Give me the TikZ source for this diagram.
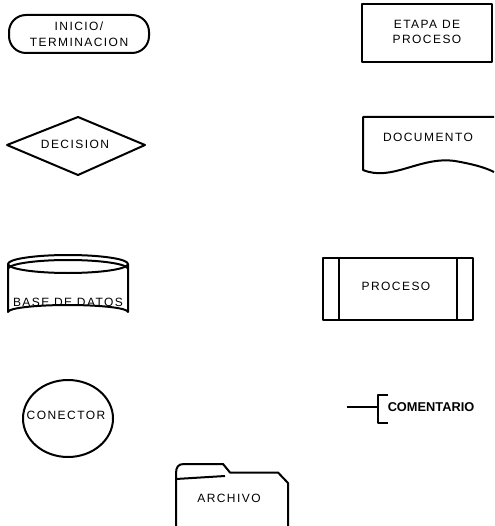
\documentclass[tikz,border=0pt]{standalone}
\usepackage{fontspec}
\setmainfont{Liberation Sans}[LetterSpace=12]
\newfontfamily\plainsans{Liberation Sans}
\usetikzlibrary{shapes.geometric}
\tikzset{
  shp/.style={draw=black, line width=2pt, line join=round},
  lbl/.style={inner sep=0pt, align=center, font=\fontsize{12}{15.7}\selectfont},
  comlbl/.style={inner sep=0pt, font=\plainsans\bfseries\fontsize{12.8}{14}\selectfont}
}
\begin{document}
\begin{tikzpicture}[x=1pt,y=-1pt]
\useasboundingbox (0,0) rectangle (494,526);
\fill[white] (0,0) rectangle (494,526);

% Inicio / terminacion
\node[shp, rounded corners=17pt, minimum width=140pt, minimum height=38pt, inner sep=0pt] (term) at (79,34) {};
\node[lbl] (termt) at (79,34) {INICIO/\\TERMINACION};

% Etapa de proceso
\node[shp, minimum width=130pt, minimum height=58pt, inner sep=0pt] (etapa) at (427,33) {};
\node[lbl] (etapat) at (427,32) {ETAPA DE\\PROCESO};

% Decision
\coordinate (dl) at (7,145);
\coordinate (dt) at (78,117);
\coordinate (dr) at (145,145);
\coordinate (db) at (78,175);
\draw[shp] (dl) -- (dt) -- (dr) -- (db) -- cycle;
\node[lbl] (dect) at (75,144) {DECISION};

% Documento
\coordinate (doc1) at (494,117);
\coordinate (doc2) at (363,117);
\coordinate (doc3) at (363,170);
\coordinate (doc4) at (455,161);
\coordinate (doc5) at (494,172);
\draw[shp] (doc1) -- (doc2) -- (doc3) .. controls (392,182) and (420,156) .. (doc4) .. controls (472,164) and (484,167) .. (doc5);
\node[lbl] (doct) at (428,137.5) {DOCUMENTO};

% Base de datos
\draw[shp] (68,264) ellipse [x radius=60, y radius=9];
\draw[shp] (8,269) arc[start angle=180, end angle=360, x radius=60, y radius=9];
\draw[shp] (8,264) -- (8,312) arc[start angle=180, end angle=360, x radius=60, y radius=7] -- (128,264);
\node[lbl] (bdt) at (68,302) {BASE DE DATOS};

% Proceso
\node[shp, minimum width=150pt, minimum height=62pt, inner sep=0pt] (proc) at (398,289) {};
\draw[shp] (339,258) -- (339,320);
\draw[shp] (457,258) -- (457,320);
\node[lbl] (proct) at (396,286) {PROCESO};

% Conector
\node[shp, ellipse, minimum width=90pt, minimum height=77pt, inner sep=0pt] (con) at (68,418.5) {};
\node[lbl] (cont) at (66,415) {CONECTOR};

% Comentario
\coordinate (cl) at (347,407);
\coordinate (cb) at (378,407);
\draw[shp] (cl) -- (cb);
\draw[shp] (388,394.5) -- (378,394.5) -- (378,423) -- (388,423);
\node[comlbl] (comt) at (431,407.5) {COMENTARIO};

% Archivo
\draw[shp] (176,527) -- (176,474) .. controls (176,467) and (178,464) .. (184,464) -- (223,464) -- (230,472.5) -- (278,472.5) -- (288,483) -- (288,527);
\draw[shp] (176,479) -- (225,476);
\node[lbl] (archt) at (229,498.5) {ARCHIVO};
\end{tikzpicture}
\end{document}
